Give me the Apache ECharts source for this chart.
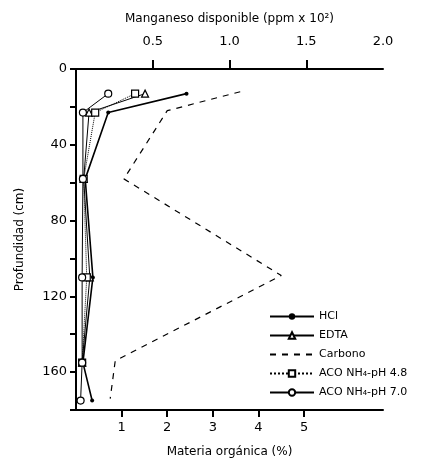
<!DOCTYPE html>
<html>
<head>
<meta charset="utf-8">
<script src="https://cdn.jsdelivr.net/npm/echarts@6/dist/echarts.min.js"></script>
<style>html,body{margin:0;padding:0;background:#fff}#c{width:440px;height:463px}</style>
</head>
<body>
<div id="c"></div>
<script>
// Depths (cm)
var depths = [13, 23, 58, 110, 155, 175];
// Manganeso disponible (ppm x 10^2)
var hcl    = [0.72, 0.21, 0.06, 0.11, 0.045, 0.105];
var edta   = [0.45, 0.085, 0.05, 0.09, 0.04];
var aco48  = [0.385, 0.125, 0.05, 0.07, 0.04];
var aco70  = [0.21, 0.045, 0.045, 0.04, 0.04, 0.03];
// Carbono (materia organica %)
var carbDepths = [12, 22, 58, 109, 154, 174];
var carbono    = [3.6, 2.0, 1.05, 4.5, 0.86, 0.75];
// Tick labels
var mnTicks = [0.5, 1.0, 1.5, 2.0];
var moTicks = [1, 2, 3, 4, 5];
var depthLabels = [0, 40, 80, 120, 160];

function pairs(xs, ys) { return xs.map(function (v, i) { return [v, ys[i]]; }); }

var font = 'DejaVu Sans';
var chart = echarts.init(document.getElementById('c'));
chart.setOption({
  backgroundColor: '#fff',
  animation: false,
  textStyle: { fontFamily: font, color: '#000' },
  grid: { left: 76, top: 69, right: 57, bottom: 53 },
  xAxis: [
    {
      type: 'value', position: 'top', min: 0, max: 2, interval: 0.5,
      name: 'Manganeso disponible (ppm x 10²)', nameLocation: 'middle', nameGap: 44,
      nameTextStyle: { fontSize: 12, color: '#000' },
      axisLine: { lineStyle: { color: '#000', width: 2 } },
      axisTick: { inside: false, length: 9, lineStyle: { color: '#000', width: 2 }, customValues: [0.5, 1.0, 1.5] },
      axisLabel: { margin: 21, fontSize: 13, color: '#000', customValues: mnTicks,
        formatter: function (v) { return v.toFixed(1); } },
      splitLine: { show: false }
    },
    {
      type: 'value', position: 'bottom', min: 0, max: 6.73, interval: 1,
      name: 'Materia orgánica (%)', nameLocation: 'middle', nameGap: 36,
      nameTextStyle: { fontSize: 12, color: '#000' },
      axisLine: { lineStyle: { color: '#000', width: 2 } },
      axisTick: { length: 7, lineStyle: { color: '#000', width: 2 }, customValues: moTicks },
      axisLabel: { margin: 11, fontSize: 13, color: '#000', customValues: moTicks },
      splitLine: { show: false }
    }
  ],
  yAxis: {
    type: 'value', inverse: true, min: 0, max: 180, interval: 20,
    name: 'Profundidad (cm)', nameLocation: 'middle', nameGap: 50, nameRotate: 90,
    nameTextStyle: { fontSize: 12, color: '#000' },
    axisLine: { lineStyle: { color: '#000', width: 2 } },
    axisTick: { length: 6, lineStyle: { color: '#000', width: 2 } },
    axisLabel: { margin: 9, fontSize: 13, color: '#000', customValues: depthLabels },
    splitLine: { show: false }
  },
  legend: {
    orient: 'vertical', left: 264, top: 306, itemWidth: 44, itemHeight: 8, itemGap: 8,
    textStyle: { fontSize: 11, color: '#000', fontFamily: font },
    data: ['HCl', 'EDTA',
      { name: 'Carbono', itemStyle: { color: 'rgba(0,0,0,0)', borderColor: 'rgba(0,0,0,0)', borderWidth: 0 } },
      'ACO NH₄-pH 4.8', 'ACO NH₄-pH 7.0']
  },
  series: [
    {
      name: 'HCl', type: 'line', xAxisIndex: 0, data: pairs(hcl, depths),
      symbol: 'circle', symbolSize: 4, itemStyle: { color: '#000' },
      lineStyle: { color: '#000', width: 1.6 }
    },
    {
      name: 'EDTA', type: 'line', xAxisIndex: 0, data: pairs(edta, depths),
      symbol: 'triangle', symbolSize: 7, itemStyle: { color: '#fff', borderColor: '#000', borderWidth: 1.2 },
      lineStyle: { color: '#000', width: 1 }
    },
    {
      name: 'Carbono', type: 'line', xAxisIndex: 1, data: pairs(carbono, carbDepths),
      showSymbol: false, symbol: 'none',
      itemStyle: { color: '#000' },
      lineStyle: { color: '#000', width: 1.2, type: [6, 6] }
    },
    {
      name: 'ACO NH₄-pH 4.8', type: 'line', xAxisIndex: 0, data: pairs(aco48, depths),
      symbol: 'rect', symbolSize: 7, itemStyle: { color: '#fff', borderColor: '#000', borderWidth: 1.2 },
      lineStyle: { color: '#000', width: 1, type: 'dotted' }
    },
    {
      name: 'ACO NH₄-pH 7.0', type: 'line', xAxisIndex: 0, data: pairs(aco70, depths),
      symbol: 'circle', symbolSize: 7, itemStyle: { color: '#fff', borderColor: '#000', borderWidth: 1.2 },
      lineStyle: { color: '#000', width: 1 }
    }
  ]
});
</script>
</body>
</html>
